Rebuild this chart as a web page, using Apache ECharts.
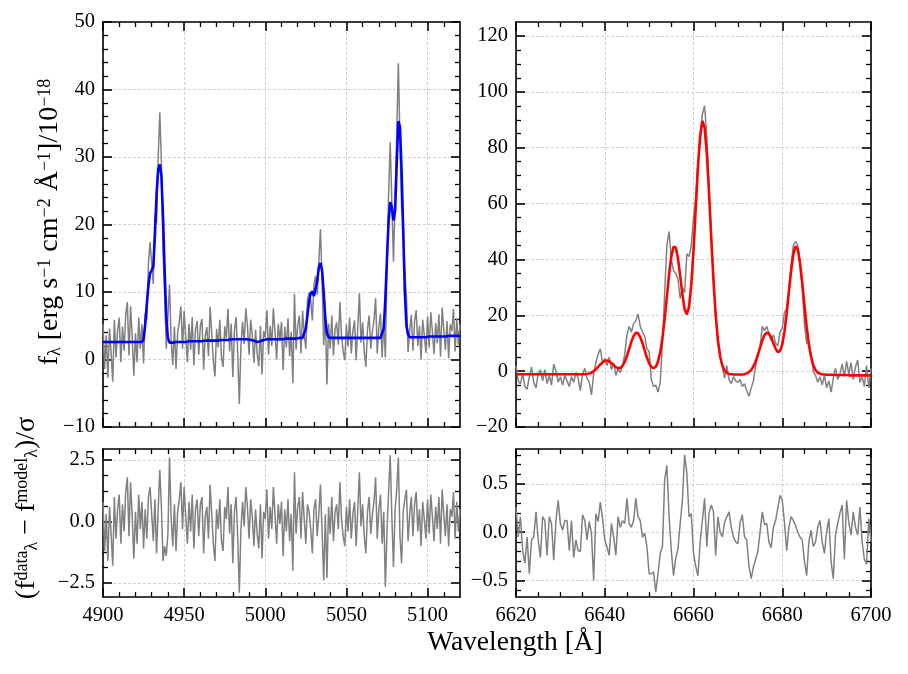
<!DOCTYPE html>
<html style="height: 100%">
<head>
    <meta charset="utf-8">
</head>
<body style="height: 100%; margin: 0; background: #fff">
<div id="container" style="width: 908px; height: 674px"></div>
<script type="text/javascript" src="https://cdn.jsdelivr.net/npm/echarts@6/dist/echarts.min.js"></script>
<script type="text/javascript">
var dom = document.getElementById('container');
var myChart = echarts.init(dom);

var FONT = 'Liberation Serif';

// left window (Hbeta + [OIII]), 1 A sampling from 4900
var LEFT_START = 4900, LEFT_STEP = 1;
var LEFT_FLUX = [
    5.2, -1.4, 3.6, -2.7, 4.6, 1.0, -3.3, 5.9, 0.3, 4.3,
    6.2, -0.4, 4.9, 1.3, 6.6, 8.5, 0.6, 7.9, 3.3, -2.4,
    3.9, -0.4, 6.2, 1.6, 5.2, -0.6, 6.8, 5.9, 14.3, 17.4,
    14.2, 11.2, 21.5, 20.2, 29.9, 36.6, 29.2, 15.7, 9.7, 1.6,
    1.6, 11.1, 2.8, -0.8, 4.9, -1.4, 3.9, 5.6, 7.9, 1.6,
    7.2, 3.3, -0.4, 5.3, 1.4, 6.3, -0.9, 4.4, 5.7, 0.7,
    5.0, 6.0, -1.5, 3.5, 4.8, 0.5, 7.8, 3.8, -0.2, -2.5,
    4.5, 1.8, 5.9, 0.3, -1.1, 4.9, 3.2, 7.5, 1.2, 5.3,
    -2.6, 4.3, 6.3, 1.0, -6.6, 2.0, 5.6, 2.3, 7.6, 5.0,
    0.7, 5.9, 3.6, -0.5, 4.4, 0.9, -1.0, 5.0, -2.2, 4.2,
    3.3, 7.3, 0.7, 5.0, 2.0, 7.6, 4.0, 0.0, 5.3, 2.7,
    5.6, -1.6, 4.8, 1.8, 6.1, 0.5, 4.1, -3.5, 9.7, 1.5,
    5.1, 6.5, 0.9, 7.2, 3.7, 1.6, 8.9, 9.9, 8.8, 5.8,
    11.1, 12.4, 9.6, 14.6, 19.3, 11.9, 2.1, 7.0, -3.7, 5.3,
    1.6, 6.5, 0.6, 4.5, 5.5, 2.2, 8.5, 3.5, 1.2, -0.1,
    5.2, 1.9, 6.2, 0.9, 4.2, 5.8, -0.1, 4.9, 9.8, 2.5,
    5.5, 1.2, -1.1, 4.5, 6.5, 1.6, 4.2, 5.8, 9.1, 0.9,
    4.9, 6.8, 0.3, 5.9, 0.3, 13.7, 24.5, 32.2, 23.3, 14.5,
    23.7, 33.3, 43.9, 32.5, 22.4, 20.3, 13.0, 9.3, 1.1, 4.3,
    6.6, 1.3, 5.6, 7.3, 2.0, 5.0, 0.0, 5.9, 3.6, 1.0,
    6.4, 1.8, 7.0, 4.1, 0.8, 5.4, 2.4, 6.7, 0.4, 7.7,
    4.4, 1.4, 5.7, 0.2, 5.2, 4.2, 7.5, 1.2, 6.1, 2.2,
    5.2
];
var LEFT_MODEL = [
    2.6, 2.6, 2.6, 2.6, 2.6, 2.6, 2.6, 2.6, 2.6, 2.6,
    2.6, 2.6, 2.6, 2.6, 2.6, 2.6, 2.6, 2.6, 2.6, 2.6,
    2.6, 2.6, 2.6, 2.6, 2.6, 3.0, 5.2, 8.2, 11.0, 12.8,
    13.2, 13.8, 18.5, 24.5, 28.2, 28.9, 27.2, 21.0, 13.0, 6.2,
    3.2, 2.5, 2.5, 2.5, 2.6, 2.6, 2.6, 2.6, 2.6, 2.6,
    2.6, 2.6, 2.6, 2.7, 2.7, 2.7, 2.7, 2.7, 2.7, 2.7,
    2.7, 2.7, 2.8, 2.8, 2.8, 2.8, 2.8, 2.8, 2.8, 2.8,
    2.8, 2.8, 2.9, 2.9, 2.9, 2.9, 2.9, 2.9, 2.9, 3.0,
    3.0, 3.0, 3.0, 3.0, 3.0, 3.0, 3.0, 3.0, 3.0, 3.0,
    3.0, 2.9, 2.9, 2.8, 2.7, 2.6, 2.6, 2.7, 2.8, 2.9,
    3.0, 3.0, 3.0, 3.0, 3.0, 3.0, 3.0, 3.0, 3.0, 3.0,
    3.0, 3.0, 3.1, 3.1, 3.1, 3.1, 3.1, 3.1, 3.1, 3.1,
    3.1, 3.2, 3.2, 3.2, 3.4, 4.6, 6.6, 8.6, 9.8, 10.1,
    9.4, 9.4, 11.6, 13.6, 14.3, 13.2, 10.0, 6.0, 3.9, 3.3,
    3.2, 3.2, 3.2, 3.2, 3.2, 3.2, 3.2, 3.2, 3.2, 3.2,
    3.2, 3.2, 3.2, 3.2, 3.2, 3.2, 3.2, 3.2, 3.2, 3.2,
    3.2, 3.2, 3.2, 3.2, 3.2, 3.2, 3.2, 3.2, 3.2, 3.2,
    3.2, 3.2, 3.3, 4.6, 9.0, 15.0, 20.5, 23.3, 22.6, 20.6,
    22.0, 29.0, 35.3, 34.5, 28.0, 19.0, 10.0, 5.0, 3.7, 3.3,
    3.3, 3.3, 3.3, 3.3, 3.3, 3.3, 3.3, 3.3, 3.3, 3.3,
    3.4, 3.4, 3.4, 3.4, 3.4, 3.4, 3.4, 3.4, 3.4, 3.4,
    3.4, 3.4, 3.4, 3.5, 3.5, 3.5, 3.5, 3.5, 3.5, 3.5,
    3.5
];
var LEFT_RESID = [
    0.8, -1.2, 0.3, -1.6, 0.6, -0.5, -1.8, 1.0, -0.7, 0.5,
    1.1, -0.9, 0.7, -0.4, 1.2, 1.8, -0.6, 1.6, 0.2, -1.5,
    0.4, -0.9, 1.1, -0.3, 0.8, -1.1, 0.5, -0.7, 1.0, 1.4,
    0.3, -0.8, 0.9, -1.3, 0.5, 2.1, 0.6, -1.6, -1.0, -1.4,
    -0.5, 2.6, 0.1, -1.0, 0.7, -1.2, 0.4, 0.9, 1.6, -0.3,
    1.4, 0.2, -0.9, 0.8, -0.4, 1.1, -1.1, 0.5, 0.9, -0.6,
    0.7, 1.0, -1.3, 0.2, 0.6, -0.7, 1.5, 0.3, -0.9, -1.6,
    0.5, -0.3, 0.9, -0.8, -1.2, 0.6, 0.1, 1.4, -0.5, 0.7,
    -1.7, 0.4, 1.0, -0.6, -2.9, -0.3, 0.8, -0.2, 1.4, 0.6,
    -0.7, 0.9, 0.2, -1.0, 0.5, -0.5, -1.1, 0.7, -1.5, 0.4,
    0.1, 1.3, -0.7, 0.6, -0.3, 1.4, 0.3, -0.9, 0.7, -0.1,
    0.8, -1.4, 0.5, -0.4, 0.9, -0.8, 0.3, -2.0, 2.0, -0.5,
    0.6, 1.0, -0.7, 1.2, 0.1, -0.9, 0.7, 0.4, -0.3, -1.3,
    0.5, 0.9, -0.6, 0.3, 1.5, -0.4, -2.4, 0.3, -2.3, 0.6,
    -0.5, 1.0, -0.8, 0.4, 0.7, -0.3, 1.6, 0.1, -0.6, -1.0,
    0.6, -0.4, 0.9, -0.7, 0.3, 0.8, -1.0, 0.5, 2.0, -0.2,
    0.7, -0.6, -1.3, 0.4, 1.0, -0.5, 0.3, 0.8, 1.8, -0.7,
    0.5, 1.1, -0.9, 0.4, -2.65, -0.4, 1.2, 2.7, 0.2, -1.85,
    0.5, 1.3, 2.6, -0.6, -1.7, 0.4, 0.9, 1.3, -0.8, 0.3,
    1.0, -0.6, 0.7, 1.2, -0.4, 0.5, -1.0, 0.8, 0.1, -0.7,
    0.9, -0.5, 1.1, 0.2, -0.8, 0.6, -0.3, 1.0, -0.9, 1.3,
    0.3, -0.6, 0.7, -1.0, 0.5, 0.2, 1.2, -0.7, 0.8, -0.4,
    0.5
];

// right window (Halpha + [NII]), 0.5 A sampling from 6620
var RIGHT_START = 6620, RIGHT_STEP = 0.5;
var RIGHT_FLUX = [
    2.0, -3.5, -4.5, -1.0, -5.5, -6.5, -2.0, 1.5, -4.0, -6.0,
    -1.0, 0.5, -3.5, 0.5, -4.5, -1.5, -5.0, 2.5, 0.0, -4.0,
    -2.0, -5.0, -1.5, -3.5, -5.5, -2.0, -4.0, -0.5, -2.5, -7.0,
    -1.0, 1.0, -2.5, -4.0, -8.5, -1.0, 3.0, 6.0, 8.0, 3.0,
    4.5, 2.0, 5.0, 0.5, 3.0, -1.5, 1.0, -0.5, 2.0, 6.0,
    13.0, 16.0, 14.0, 17.0, 18.0, 20.5, 16.0, 14.0, 12.5, 8.0,
    7.0, -3.0, -5.5, -5.0, -7.5, -4.0, 10.0, 28.0, 45.0, 50.0,
    40.0, 36.0, 35.0, 33.0, 26.0, 30.0, 28.0, 42.0, 41.0, 45.0,
    55.0, 62.0, 75.0, 82.0, 92.0, 95.0, 84.0, 66.0, 48.0, 34.0,
    20.0, 10.0, 5.0, 1.5, -2.5, 2.0, -3.0, -4.5, -2.0, -3.5,
    -4.0, -3.0, -5.5, -4.5, -7.0, -9.0, -6.0, -3.5, 2.0, 5.5,
    9.0, 16.0, 14.5, 16.0, 13.5, 11.0, 13.0, 10.0, 9.0, 14.0,
    15.5, 21.0, 22.5, 29.0, 38.0, 45.0, 46.5, 45.0, 39.0, 30.0,
    17.0, 10.0, 9.5, 6.0, 0.0, -1.5, -4.0, -2.0, -5.0, -1.5,
    -6.0, -3.5, -7.5, -2.5, 1.0, -3.0, -1.0, 2.5, -2.0, 3.5,
    -1.0, 3.0, -3.0, 1.5, 4.0, -4.0, -2.0, -5.5, 2.0, -6.0,
    1.0
];
var RIGHT_MODEL = [
    -1.1, -1.1, -1.1, -1.1, -1.1, -1.1, -1.1, -1.1, -1.1, -1.1,
    -1.1, -1.1, -1.1, -1.1, -1.1, -1.1, -1.1, -1.1, -1.1, -1.1,
    -1.1, -1.1, -1.1, -1.1, -1.1, -1.1, -1.1, -1.1, -1.1, -1.1,
    -1.1, -1.1, -1.0, -0.84, -0.5, 0.0, 0.65, 1.5, 2.4, 3.15,
    3.65, 3.8, 3.5, 2.9, 2.15, 1.46, 1.06, 1.16, 1.88, 3.34,
    5.43, 7.96, 10.5, 12.6, 13.7, 13.6, 12.2, 10.0, 7.4, 4.86,
    2.84, 1.51, 1.03, 1.57, 3.4, 6.7, 11.9, 18.7, 26.7, 34.7,
    41.1, 44.5, 44.25, 40.4, 34.1, 27.5, 22.2, 20.3, 23.1, 30.9,
    43.1, 58.1, 73.0, 84.3, 89.6, 87.3, 77.9, 63.6, 47.6, 32.4,
    20.1, 11.1, 5.35, 2.0, 0.25, -0.6, -1.0, -1.1, -1.2, -1.2,
    -1.2, -1.2, -1.2, -1.1, -0.8, -0.37, 0.39, 1.65, 3.47, 5.8,
    8.43, 11.0, 12.9, 13.8, 13.47, 12.0, 10.0, 8.04, 6.87, 7.19,
    9.57, 14.2, 20.7, 28.5, 36.1, 42.0, 44.7, 43.6, 38.8, 31.6,
    23.5, 15.8, 9.6, 5.0, 2.1, 0.4, -0.5, -0.9, -1.1, -1.2,
    -1.3, -1.3, -1.3, -1.3, -1.4, -1.4, -1.4, -1.4, -1.4, -1.4,
    -1.5, -1.5, -1.5, -1.5, -1.5, -1.5, -1.5, -1.5, -1.5, -1.5,
    -1.5
];
var RIGHT_RESID = [
    0.26, -0.05, 0.16, -0.19, -0.32, -0.05, -0.43, -0.08, -0.05, 0.21,
    -0.08, -0.26, 0.16, 0.12, -0.24, 0.16, 0.09, -0.29, 0.12, 0.33,
    0.09, 0.02, 0.12, 0.12, -0.19, 0.12, -0.26, -0.08, -0.19, -0.20,
    0.18, 0.12, -0.08, 0.11, -0.01, -0.50, 0.19, 0.11, 0.31, 0.14,
    -0.08, -0.15, -0.24, 0.09, -0.05, -0.24, 0.16, 0.05, 0.12, 0.09,
    0.35, 0.09, 0.05, 0.12, 0.35, 0.16, 0.12, -0.05, -0.01, -0.15,
    -0.43, -0.43, -0.41, -0.62, -0.43, -0.22, -0.15, 0.54, 0.69, 0.16,
    -0.19, -0.45, -0.27, -0.17, 0.09, 0.33, 0.80, 0.61, 0.16, 0.19,
    -0.22, -0.35, -0.45, -0.10, 0.12, 0.35, -0.15, 0.20, 0.28, 0.21,
    -0.24, 0.16, 0.00, -0.05, 0.10, 0.16, 0.21, 0.05, -0.05, -0.10,
    -0.12, 0.10, 0.18, -0.05, -0.08, -0.35, -0.48, -0.36, -0.28, -0.20,
    0.00, 0.21, 0.08, 0.09, -0.10, -0.16, 0.05, 0.12, 0.25, 0.38,
    0.33, 0.10, -0.19, 0.05, 0.16, 0.12, 0.07, 0.00, -0.05, -0.08,
    -0.30, -0.45, -0.10, 0.02, -0.15, -0.10, 0.05, 0.12, -0.10, -0.22,
    0.00, 0.14, -0.30, -0.48, -0.03, 0.09, 0.20, 0.28, -0.28, 0.33,
    0.10, -0.03, 0.21, 0.05, -0.03, 0.26, -0.10, -0.28, -0.33, 0.14,
    -0.10
];

// major tick values (labels)
var LEFT_X_TICKS = [4900, 4950, 5000, 5050, 5100];
var RIGHT_X_TICKS = [6620, 6640, 6660, 6680, 6700];
var TL_Y_TICKS = [-10, 0, 10, 20, 30, 40, 50];
var TR_Y_TICKS = [-20, 0, 20, 40, 60, 80, 100, 120];
var BL_Y_TICKS = [-2.5, 0, 2.5];
var BR_Y_TICKS = [-0.5, 0, 0.5];

function pairs(start, step, ys) {
    return ys.map(function (y, i) { return [start + i * step, y]; });
}

function minors(min, max, step, majors) {
    var out = [];
    for (var k = Math.ceil(min / step - 1e-9); k * step <= max + 1e-9; k++) {
        var v = Math.round(k * step * 1e6) / 1e6;
        if (v <= min || v >= max) continue;
        if (majors.some(function (m) { return Math.abs(m - v) < 1e-6; })) continue;
        out.push(v);
    }
    return out;
}

function fmtInt(v) { return v < 0 ? '\u2212' + Math.abs(v) : String(v); }
function fmt1(v) { return v < 0 ? '\u2212' + Math.abs(v).toFixed(1) : v.toFixed(1); }

var grid = [], xAxis = [], yAxis = [], series = [];

function addAxes(list, g, pos, r, labels, fmt) {
    var first = list.length;
    var primary = pos === 'bottom' || pos === 'left';
    list.push({
        type: 'value', gridIndex: g, position: pos, min: r.min, max: r.max,
        axisLine: { show: true, onZero: false, lineStyle: { color: '#000', width: 1.6 } },
        axisTick: { show: true, inside: true, length: 9, customValues: r.ticks,
            lineStyle: { color: '#000', width: 1.6 } },
        axisLabel: { show: labels, customValues: r.ticks, formatter: fmt, color: '#000',
            fontFamily: FONT, fontSize: 20.5, margin: 8 },
        splitLine: { show: primary, lineStyle: { color: '#c4c4c4', width: 0.8, type: [3, 2] } },
        minorTick: { show: false },
        axisPointer: { show: false }
    });
    list.push({
        type: 'value', gridIndex: g, position: pos, min: r.min, max: r.max,
        axisLine: { show: false, onZero: false },
        axisTick: { show: true, inside: true, length: 5, customValues: minors(r.min, r.max, r.minor, r.ticks),
            lineStyle: { color: '#000', width: 1.3 } },
        axisLabel: { show: false },
        splitLine: { show: false },
        axisPointer: { show: false }
    });
    return first;
}

function addPanel(box, xr, yr, xLabels, yFmt) {
    var g = grid.length;
    grid.push(Object.assign({ outerBoundsMode: 'none' }, box));
    var xi = addAxes(xAxis, g, 'bottom', xr, xLabels, fmtInt);
    addAxes(xAxis, g, 'top', xr, false, fmtInt);
    var yi = addAxes(yAxis, g, 'left', yr, true, yFmt);
    addAxes(yAxis, g, 'right', yr, false, yFmt);
    return { x: xi, y: yi };
}

function line(ax, data, color, width, z) {
    return {
        type: 'line', xAxisIndex: ax.x, yAxisIndex: ax.y, data: data,
        showSymbol: false, symbol: 'none', silent: true, z: z,
        lineStyle: { color: color, width: width }, itemStyle: { color: color }
    };
}

var leftX = { min: 4900, max: 5120, ticks: LEFT_X_TICKS, minor: 10 };
var rightX = { min: 6620, max: 6700, ticks: RIGHT_X_TICKS, minor: 5 };

var tl = addPanel({ left: 103, top: 22, width: 357, height: 405 }, leftX,
    { min: -10, max: 50, ticks: TL_Y_TICKS, minor: 2 }, false, fmtInt);
var tr = addPanel({ left: 516, top: 22, width: 355, height: 405 }, rightX,
    { min: -20, max: 125, ticks: TR_Y_TICKS, minor: 5 }, false, fmtInt);
var bl = addPanel({ left: 103, top: 449, width: 357, height: 148 }, leftX,
    { min: -3.07, max: 2.95, ticks: BL_Y_TICKS, minor: 0.625 }, true, fmt1);
var br = addPanel({ left: 516, top: 449, width: 355, height: 148 }, rightX,
    { min: -0.67, max: 0.86, ticks: BR_Y_TICKS, minor: 0.1 }, true, fmt1);

series.push(line(tl, pairs(LEFT_START, LEFT_STEP, LEFT_FLUX), '#808080', 1.5, 2));
series.push(line(tl, pairs(LEFT_START, LEFT_STEP, LEFT_MODEL), '#0000ff', 2.6, 3));
series.push(line(tr, pairs(RIGHT_START, RIGHT_STEP, RIGHT_FLUX), '#808080', 1.5, 2));
series.push(line(tr, pairs(RIGHT_START, RIGHT_STEP, RIGHT_MODEL), '#ff0000', 2.6, 3));
series.push(line(bl, pairs(LEFT_START, LEFT_STEP, LEFT_RESID), '#808080', 1.5, 2));
series.push(line(br, pairs(RIGHT_START, RIGHT_STEP, RIGHT_RESID), '#808080', 1.5, 2));

var sup = { fontSize: 18, fontFamily: FONT, verticalAlign: 'top', fill: '#000' };
var sub = { fontSize: 18, fontFamily: FONT, verticalAlign: 'bottom', fill: '#000' };

var option = {
    animation: false,
    backgroundColor: '#fff',
    grid: grid,
    xAxis: xAxis,
    yAxis: yAxis,
    series: series,
    graphic: [
        {
            type: 'text', x: 50, y: 222, rotation: Math.PI / 2,
            style: {
                text: 'f{s|\u03bb} [erg s{p|\u22121} cm{p|\u22122} \u00c5{p|\u22121}]/10{p|\u221218}',
                rich: { p: sup, s: sub },
                fontSize: 28, fontFamily: FONT, fill: '#000',
                align: 'center', verticalAlign: 'middle'
            }
        },
        {
            type: 'text', x: 27, y: 508, rotation: Math.PI / 2,
            style: {
                text: '(f{p|data}{s|\u03bb} \u2212 f{p|model}{s|\u03bb})/\u03c3',
                rich: { p: sup, s: sub },
                fontSize: 28, fontFamily: FONT, fill: '#000',
                align: 'center', verticalAlign: 'middle'
            }
        },
        {
            type: 'text', x: 515, y: 643,
            style: {
                text: 'Wavelength [\u00c5]',
                fontSize: 27.5, fontFamily: FONT, fill: '#000',
                align: 'center', verticalAlign: 'middle'
            }
        }
    ]
};

if (option && typeof option === 'object') {
    myChart.setOption(option);
}
</script>
</body>
</html>
